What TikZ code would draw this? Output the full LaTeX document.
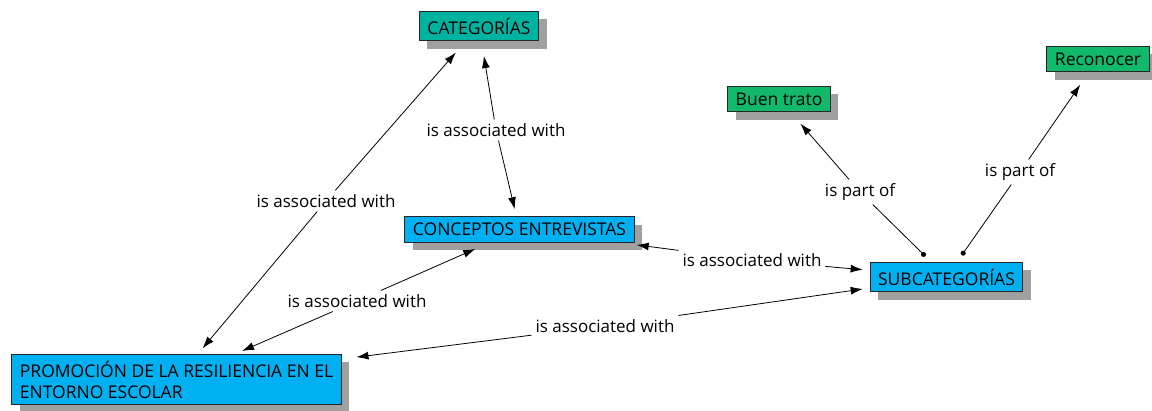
\documentclass[tikz,border=0pt]{standalone}
\usepackage{fontspec}
\setmainfont{Open Sans}
\usetikzlibrary{arrows.meta, shadows}
\definecolor{teal1}{RGB}{0,178,160}
\definecolor{green1}{RGB}{18,185,106}
\definecolor{blue1}{RGB}{0,176,240}
\definecolor{shadow1}{RGB}{160,160,160}

\begin{document}
\begin{tikzpicture}[x=1pt, y=-1pt,
    concept/.style={draw=black!85, line width=1pt, inner xsep=8pt, inner ysep=6.5pt,
        font=\fontsize{17.5}{21}\selectfont, align=left,
        drop shadow={shadow xshift=8pt, shadow yshift=-8pt, fill=shadow1, opacity=1}},
    link/.style={font=\fontsize{17}{20}\selectfont, inner sep=3pt, outer sep=1pt},
    arr/.style={-{Latex[length=12pt,width=8pt]}, line width=0.8pt, shorten >=7pt},
    arrb/.style={arr, shorten >=15pt},
    dotarr/.style={{Circle[length=5pt]}-, line width=0.8pt, shorten <=8pt}]
    \useasboundingbox (0,0) rectangle (1152,411);
    % Conceptos
    \node[concept, fill=teal1] (cat) at (479,26) {CATEGORÍAS};
    \node[concept, fill=green1] (buen) at (779,99) {Buen trato};
    \node[concept, fill=green1] (rec) at (1098,59) {Reconocer};
    \node[concept, fill=blue1] (conc) at (519.5,229.5) {CONCEPTOS ENTREVISTAS};
    \node[concept, fill=blue1] (sub) at (946.5,277) {SUBCATEGORÍAS};
    \node[concept, fill=blue1] (prom) at (176.5,379.5) {PROMOCIÓN DE LA RESILIENCIA EN EL\\ENTORNO ESCOLAR};
    % Frases de enlace
    \node[link] (l1) at (326,201) {is associated with};
    \node[link] (l2) at (496,130) {is associated with};
    \node[link] (l3) at (357,301) {is associated with};
    \node[link] (l4) at (752,260) {is associated with};
    \node[link] (l5) at (605,326) {is associated with};
    \node[link] (l6) at (860,192) {is part of};
    \node[link] (l7) at (1020,172) {is part of};
    % Enlaces
    \draw[arrb] (l1) -- (cat);
    \draw[arr] (l1) -- (prom);
    \draw[arrb] (l2) -- (cat);
    \draw[arr] (l2) -- (conc);
    \draw[arrb] (l3) -- (conc);
    \draw[arr] (l3) -- (prom);
    \draw[arrb] (l4) -- (conc);
    \draw[arr] (l4) -- (sub);
    \draw[arrb] (l5) -- (prom);
    \draw[arr] (l5) -- (sub);
    \draw[dotarr] (sub) -- (l6);
    \draw[arrb] (l6) -- (buen);
    \draw[dotarr] (sub) -- (l7);
    \draw[arrb] (l7) -- (rec);
\end{tikzpicture}
\end{document}
